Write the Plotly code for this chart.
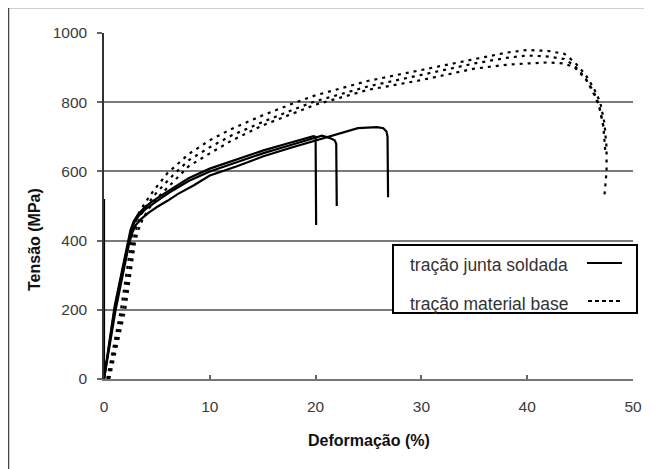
import plotly.graph_objects as go

# ---- data (strain %, stress MPa) ----
weld_1_x = [0, 0, 1.0, 2.2, 2.5, 2.8, 3.2, 3.8, 4.5, 5.5, 6.5, 8.0, 10.0, 12.5, 15.0, 17.5, 19.3, 19.8, 20.0, 20.05]
weld_1_y = [520, 0, 210, 390, 430, 455, 475, 495, 512, 532, 552, 580, 608, 635, 660, 682, 698, 702, 700, 445]

weld_2_x = [0, 1.0, 2.3, 2.6, 2.9, 3.3, 3.9, 4.6, 5.5, 6.5, 8.0, 10.0, 12.5, 15.0, 17.5, 20.0, 20.6, 21.3, 21.8, 21.95, 22.0]
weld_2_y = [0, 200, 395, 430, 455, 472, 490, 506, 525, 545, 572, 600, 627, 652, 675, 697, 703, 697, 690, 680, 500]

weld_3_x = [0, 1.1, 2.4, 2.7, 3.0, 3.5, 4.2, 5.0, 6.0, 7.0, 8.5, 10.0, 12.5, 15.0, 17.5, 20.0, 22.0, 24.0, 25.8, 26.4, 26.7, 26.8, 26.85]
weld_3_y = [0, 200, 395, 425, 445, 462, 480, 497, 515, 535, 560, 588, 614, 643, 667, 690, 708, 725, 728, 725, 715, 700, 525]

base_1_x = [0.3, 1.6, 2.6, 2.9, 3.3, 3.9, 4.7, 6.0, 8.0, 10.0, 12.0, 15.0, 18.0, 20.0, 25.0, 30.0, 35.0, 38.0, 40.0, 42.0, 43.5, 44.5, 45.5, 46.3, 46.9, 47.3, 47.5, 47.5, 47.3]
base_1_y = [0, 200, 400, 445, 480, 510, 545, 595, 650, 690, 722, 762, 798, 820, 862, 893, 925, 943, 951, 948, 940, 915, 880, 840, 800, 740, 670, 600, 530]

base_2_x = [0.4, 1.8, 2.8, 3.1, 3.5, 4.1, 5.0, 6.5, 8.0, 10.0, 12.0, 15.0, 18.0, 20.0, 25.0, 30.0, 35.0, 38.0, 40.0, 42.0, 43.5, 44.5, 45.5, 46.2, 46.8, 47.2, 47.4]
base_2_y = [0, 200, 400, 440, 475, 505, 540, 588, 632, 670, 703, 743, 780, 803, 846, 879, 912, 928, 935, 932, 925, 905, 870, 830, 790, 730, 650]

base_3_x = [0.5, 2.0, 2.95, 3.3, 3.7, 4.3, 5.2, 6.5, 8.0, 10.0, 12.0, 15.0, 18.0, 20.0, 25.0, 30.0, 35.0, 38.0, 40.0, 42.0, 43.5, 44.5, 45.5, 46.3, 46.8, 47.2]
base_3_y = [0, 200, 400, 435, 465, 495, 528, 568, 615, 652, 688, 733, 768, 793, 836, 864, 897, 908, 912, 915, 912, 900, 868, 830, 790, 730]

x_ticks = [0, 10, 20, 30, 40, 50]
y_ticks = [0, 200, 400, 600, 800, 1000]

legend_labels = ["tração junta soldada", "tração material base"]
x_title = "Deformação (%)"
y_title = "Tensão (MPa)"

SOLID = dict(color="black", width=2.2)
DOTTED = dict(color="black", width=2.2, dash="3px,5px")

fig = go.Figure()
for xs, ys in [(weld_1_x, weld_1_y), (weld_2_x, weld_2_y), (weld_3_x, weld_3_y)]:
    fig.add_trace(go.Scatter(x=xs, y=ys, mode="lines", line=SOLID,
                             name=legend_labels[0], showlegend=False, hoverinfo="skip"))
for xs, ys in [(base_1_x, base_1_y), (base_2_x, base_2_y), (base_3_x, base_3_y)]:
    fig.add_trace(go.Scatter(x=xs, y=ys, mode="lines", line=DOTTED,
                             name=legend_labels[1], showlegend=False, hoverinfo="skip"))

W, H = 652, 469
OFF = 8  # page body margin: figure is drawn 8px right/down in the window
L, R, T, B = 104 - OFF, 633 - OFF, 33 - OFF, 379 - OFF
pw, ph = R - L, B - T


def px(xp):  # window pixel x -> paper
    return (xp - OFF - L) / pw


def py(yp):  # window pixel y -> paper
    return (B - (yp - OFF)) / ph


tickfont = dict(family="Liberation Sans, Arial, sans-serif", size=15.5, color="#3a3a3a")

fig.update_layout(
    width=W, height=H,
    margin=dict(l=L, r=W - R, t=T, b=H - B, pad=0),
    paper_bgcolor="white", plot_bgcolor="white",
    showlegend=False,
    xaxis=dict(range=[0, 50], tickvals=x_ticks, ticks="inside", ticklen=4,
               tickcolor="#666", tickwidth=1.5, showgrid=False, zeroline=False,
               showline=True, linecolor="#777", linewidth=1.5,
               tickfont=tickfont, ticklabelstandoff=13, fixedrange=True),
    yaxis=dict(range=[0, 1000], tickvals=y_ticks, ticks="outside", ticklen=5,
               tickcolor="#666", tickwidth=1.5, showgrid=True, gridcolor="#7a7a7a",
               gridwidth=1.5, zeroline=False, showline=True, linecolor="#333",
               linewidth=1.5, tickfont=tickfont, ticklabelstandoff=7, fixedrange=True),
    font=dict(family="Liberation Sans, Arial, sans-serif"),
)

shapes = []
# outer frame (runs off the right/bottom edges)
shapes.append(dict(type="rect", xref="paper", yref="paper",
                   x0=px(8), x1=px(W + 20), y0=py(H + 20), y1=py(7),
                   line=dict(color="#444", width=2.5), fillcolor="rgba(0,0,0,0)", layer="below"))
# legend box
shapes.append(dict(type="rect", xref="paper", yref="paper",
                   x0=px(393), x1=px(637), y0=py(313), y1=py(245),
                   line=dict(color="black", width=2), fillcolor="white", layer="above"))
shapes.append(dict(type="line", xref="paper", yref="paper",
                   x0=px(587), x1=px(622), y0=py(263), y1=py(263), line=SOLID, layer="above"))
shapes.append(dict(type="line", xref="paper", yref="paper",
                   x0=px(588), x1=px(623), y0=py(301), y1=py(301),
                   line=dict(color="black", width=2, dash="4px,3px"), layer="above"))
fig.update_layout(shapes=shapes)

legfont = dict(family="Liberation Sans, Arial, sans-serif", size=17.5, color="#333")
annotations = [
    dict(text=legend_labels[0], xref="paper", yref="paper", x=px(408), y=py(265),
         xanchor="left", yanchor="middle", showarrow=False, font=legfont),
    dict(text=legend_labels[1], xref="paper", yref="paper", x=px(408), y=py(304),
         xanchor="left", yanchor="middle", showarrow=False, font=legfont),
    dict(text="<b>" + x_title + "</b>", xref="paper", yref="paper", x=0.5, y=py(440),
         xanchor="center", yanchor="middle", showarrow=False,
         font=dict(family="Liberation Sans, Arial, sans-serif", size=16, color="#111")),
    dict(text="<b>" + y_title + "</b>", xref="paper", yref="paper", x=px(34), y=py(240),
         xanchor="center", yanchor="middle", showarrow=False, textangle=-90,
         font=dict(family="Liberation Sans, Arial, sans-serif", size=16, color="#111")),
]
fig.update_layout(annotations=annotations)

fig.write_html("out.html")
